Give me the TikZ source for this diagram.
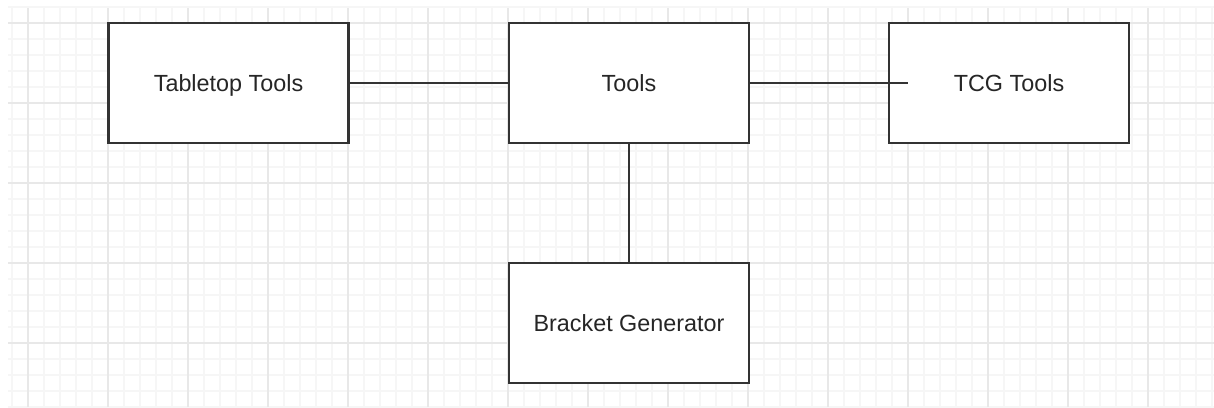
\documentclass[tikz,border=0pt]{standalone}
\usepackage{fontspec}
\setmainfont{Liberation Sans}
\definecolor{gridmajor}{HTML}{E8E8E8}
\definecolor{gridminor}{HTML}{F6F6F6}
\definecolor{boxline}{HTML}{333333}
\begin{document}
\begin{tikzpicture}[
  x=0.02cm, y=-0.02cm,
  every node/.style={font=\fontsize{13.3}{15}\selectfont, align=center},
  toolbox/.style={rectangle, draw=boxline, line width=1.2pt, fill=white, text=black!85,
    text height=1.9ex, text depth=0ex, minimum width=4.8cm, minimum height=2.4cm},
  link/.style={draw=boxline, line width=1.2pt},
  minorgrid/.style={gridminor, line width=0.6pt},
  majorgrid/.style={gridmajor, line width=0.8pt}
]
\useasboundingbox[fill=white] (0, 0) rectangle (1214, 407);
% background grid
\foreach \gx in {12, 28, ..., 1212} {\draw[minorgrid] (\gx, 8) -- (\gx, 407);}
\foreach \gy in {7, 23, ..., 407} {\draw[minorgrid] (8, \gy) -- (1214, \gy);}
\foreach \gx in {28, 108, ..., 1212} {\draw[majorgrid] (\gx, 8) -- (\gx, 407);}
\foreach \gy in {23, 103, ..., 407} {\draw[majorgrid] (8, \gy) -- (1214, \gy);}

\node[toolbox] (tabletop) at (228.5, 83) {Tabletop Tools};
\node[toolbox] (tools) at (629, 83) {Tools};
\node[toolbox] (tcg) at (1009, 83) {TCG Tools};
\node[toolbox] (bracket) at (629, 323) {Bracket Generator};
\coordinate (tcgend) at (908, 83);

\draw[link] (tabletop.east) -- (tools.west);
\draw[link] (tools.east) -- (tcgend);
\draw[link] (tools.south) -- (bracket.north);
\end{tikzpicture}
\end{document}
